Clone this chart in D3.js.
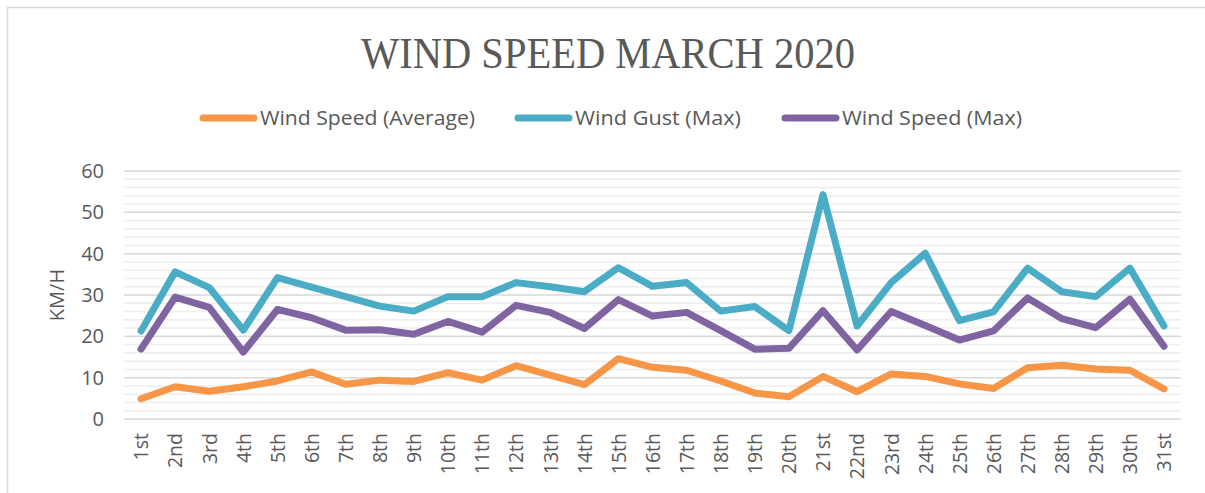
<!DOCTYPE html>
<html>
<head>
<meta charset="utf-8">
<script src="https://cdn.jsdelivr.net/npm/d3@7"></script>
<style>
  body { margin: 0; background: #fff; }
  svg { display: block; }
</style>
</head>
<body>
<svg id="chart" width="1205" height="493"></svg>
<script>
const days = ["1st","2nd","3rd","4th","5th","6th","7th","8th","9th","10th","11th","12th","13th","14th","15th","16th","17th","18th","19th","20th","21st","22nd","23rd","24th","25th","26th","27th","28th","29th","30th","31st"];

const speedAvg = [4.9,7.8,6.7,7.8,9.2,11.4,8.4,9.4,9.1,11.2,9.4,12.9,10.6,8.3,14.6,12.5,11.8,9.2,6.3,5.4,10.3,6.6,10.9,10.3,8.5,7.4,12.4,13.0,12.1,11.8,7.3];
const gustMax = [21.3,35.6,31.8,21.5,34.2,31.9,29.6,27.3,26.1,29.6,29.6,33.0,32.0,30.8,36.6,32.1,33.0,26.1,27.2,21.4,54.3,22.5,33.0,40.1,23.8,25.9,36.5,30.8,29.6,36.5,22.5];
const speedMax = [16.9,29.5,27.0,16.2,26.5,24.5,21.5,21.6,20.5,23.6,21.0,27.5,25.8,21.9,28.9,24.9,25.8,21.4,16.9,17.1,26.2,16.7,26.0,22.6,19.1,21.3,29.3,24.3,22.1,29.0,17.6];

const series = [
  {name: "Wind Speed (Average)", values: speedAvg, color: "#F79646"},
  {name: "Wind Gust (Max)", values: gustMax, color: "#4BACC6"},
  {name: "Wind Speed (Max)", values: speedMax, color: "#8064A2"}
];

const yTicks = [0, 10, 20, 30, 40, 50, 60];
const yMinor = d3.range(0, 61, 2);

const svg = d3.select("#chart");
const textColor = "#595959";

// chart frame
svg.append("rect")
  .attr("x", 7.5).attr("y", 7.5)
  .attr("width", 1210).attr("height", 500)
  .attr("fill", "none").attr("stroke", "#d9d9d9").attr("stroke-width", 1.5);

// title
svg.append("text")
  .attr("x", 608).attr("y", 68)
  .attr("text-anchor", "middle")
  .attr("font-family", "'Liberation Serif', serif")
  .attr("font-size", 45)
  .attr("fill", textColor)
  .attr("textLength", 494).attr("lengthAdjust", "spacingAndGlyphs")
  .text("WIND SPEED MARCH 2020");

const x = d3.scalePoint().domain(days).range([124, 1181]).padding(0.5);
const y = d3.scaleLinear().domain([0, 60]).range([419, 171]);

// gridlines
const plot = svg.append("g");
plot.selectAll(".minor").data(yMinor.filter(v => v % 10 !== 0)).enter().append("line")
  .attr("x1", 124).attr("x2", 1181)
  .attr("y1", d => y(d)).attr("y2", d => y(d))
  .attr("stroke", "#eeeeee").attr("stroke-width", 1.5);
plot.selectAll(".major").data(yTicks).enter().append("line")
  .attr("x1", 124).attr("x2", 1181)
  .attr("y1", d => y(d)).attr("y2", d => y(d))
  .attr("stroke", "#d9d9d9").attr("stroke-width", 1.5);

// y axis labels
const yAxis = svg.append("g")
  .attr("transform", "translate(104,0)")
  .call(d3.axisLeft(y).tickValues(yTicks).tickSize(0).tickPadding(0));
yAxis.select(".domain").remove();
yAxis.selectAll("text")
  .attr("font-family", "'Open Sans', sans-serif")
  .attr("font-size", 20)
  .attr("fill", textColor);

svg.append("text")
  .attr("transform", "translate(64,295) rotate(-90)")
  .attr("text-anchor", "middle")
  .attr("font-family", "'Open Sans', sans-serif")
  .attr("font-size", 20)
  .attr("fill", textColor)
  .text("KM/H");

// x axis labels
const xAxis = svg.append("g")
  .attr("transform", "translate(0,419)")
  .call(d3.axisBottom(x).tickSize(0).tickPadding(0));
xAxis.select(".domain").remove();
xAxis.selectAll("text")
  .attr("font-family", "'Open Sans', sans-serif")
  .attr("font-size", 19.5)
  .attr("fill", textColor)
  .attr("text-anchor", "end")
  .attr("dy", "0.35em")
  .attr("transform", "translate(0,14) rotate(-90)")
  .attr("x", 0).attr("y", 0);

// lines
const line = d3.line().x((d, i) => x(days[i])).y(d => y(d));
svg.selectAll(".series").data(series).enter().append("path")
  .attr("d", d => line(d.values))
  .attr("fill", "none")
  .attr("stroke", d => d.color)
  .attr("stroke-width", 7)
  .attr("stroke-linejoin", "round")
  .attr("stroke-linecap", "round");

// legend
const legendX = [200, 515, 782];
const legendW = [215, 166, 180];
const lg = svg.selectAll(".legend").data(series).enter().append("g")
  .attr("transform", (d, i) => `translate(${legendX[i]},118)`);
lg.append("line")
  .attr("x1", 3).attr("x2", 54)
  .attr("stroke", d => d.color).attr("stroke-width", 7)
  .attr("stroke-linecap", "round");
lg.append("text")
  .attr("x", 60).attr("y", 7)
  .attr("font-family", "'Open Sans', sans-serif")
  .attr("font-size", 20)
  .attr("fill", textColor)
  .attr("textLength", (d, i) => legendW[i]).attr("lengthAdjust", "spacingAndGlyphs")
  .text(d => d.name);
</script>
</body>
</html>
